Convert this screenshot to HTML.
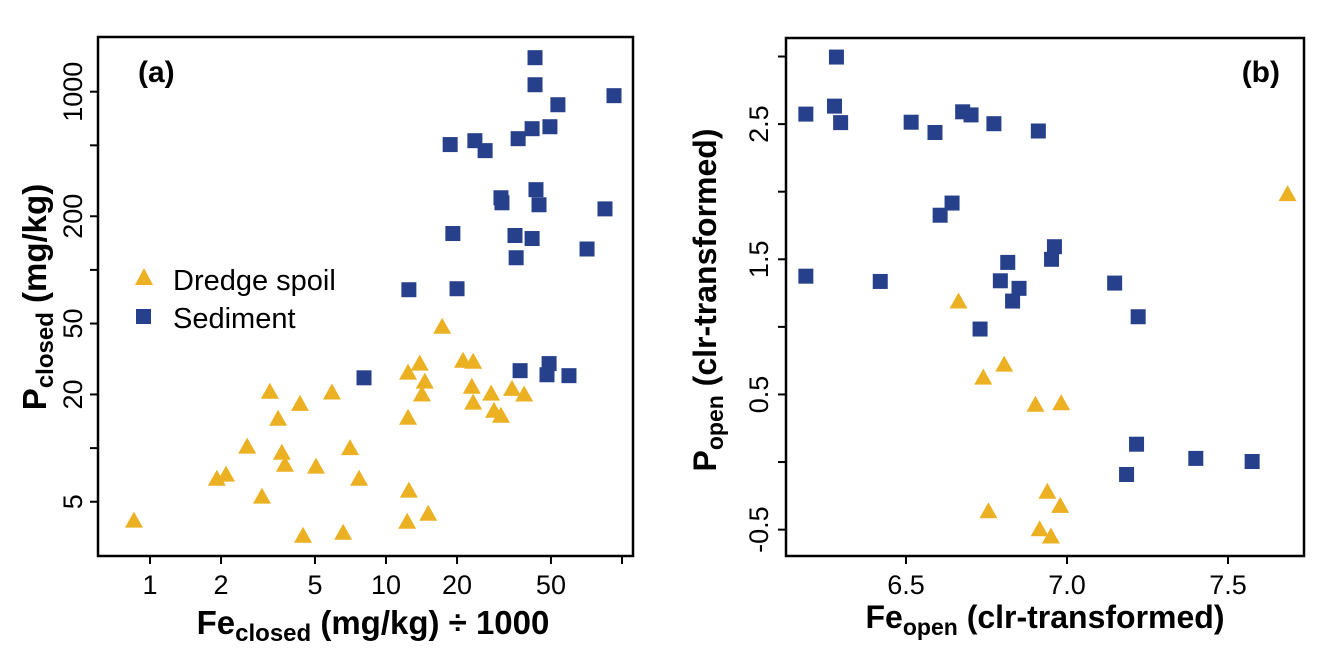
<!DOCTYPE html>
<html><head><meta charset="utf-8"><style>
body{margin:0;background:#fff}
svg{display:block;font-family:"Liberation Sans",Arial,sans-serif}
</style></head><body>
<svg id="chart" width="1344" height="672" viewBox="0 0 1344 672" style="position:absolute;left:0;top:0">
<g id="pa"></g>
<g id="pb"></g>
<text x="138" y="82" font-size="30" font-weight="bold">(a)</text>
<text x="1280" y="82" font-size="30" font-weight="bold" text-anchor="end">(b)</text>
<g>
<polygon points="135,285 153,285 144,268" fill="#ebb123"/>
<text x="173" y="290" font-size="29">Dredge spoil</text>
<rect x="136" y="309" width="15" height="15" fill="#27408b"/>
<text x="173" y="328" font-size="29">Sediment</text>
</g>
<text x="373" y="634" font-size="33" font-weight="bold" text-anchor="middle">Fe<tspan font-size="24" dy="7">closed</tspan><tspan dy="-7"> (mg/kg) ÷ 1000</tspan></text>
<text transform="translate(46 297) rotate(-90)" font-size="33" font-weight="bold" text-anchor="middle">P<tspan font-size="24" dy="7">closed</tspan><tspan dy="-7"> (mg/kg)</tspan></text>
<text x="1045" y="628" font-size="32" font-weight="bold" text-anchor="middle">Fe<tspan font-size="23" dy="7">open</tspan><tspan dy="-7"> (clr-transformed)</tspan></text>
<text transform="translate(716 300) rotate(-90)" font-size="32" font-weight="bold" text-anchor="middle">P<tspan font-size="23" dy="7">open</tspan><tspan dy="-7"> (clr-transformed)</tspan></text>
</svg>
<script>
// Panel (a) data: log-log, Fe(mg/kg)/1000 vs P(mg/kg)
const aSedX=[42.8,42.8,53.5,23.8,18.7,26.3,36.3,41.6,49.5,30.7,31.0,43.2,44.5,84.7,19.2,35.2,41.6,71.1,35.6,12.5,20.0,8.07,49.1,37.0,48.1,59.6,92.5];
const aSedY=[1552,1094,845,531,505,467,545,620,636,254,238,282,232,220,160,156,150,131,117,77.4,78.4,24.8,29.8,27.2,25.8,25.5,950];
const aDrX=[0.855,1.92,2.10,2.98,4.45,6.58,12.3,12.5,15.1,2.58,3.62,3.73,5.05,7.04,7.69,3.22,3.49,4.32,5.90,17.3,12.4,13.9,14.6,14.2,12.4,21.2,23.4,23.1,23.4,27.9,28.7,30.7,34.2,38.5];
const aDrY=[3.92,6.73,7.10,5.34,3.22,3.35,3.86,5.77,4.28,10.2,9.42,8.07,7.87,10.0,6.73,20.7,14.6,17.7,20.5,48.0,26.5,29.8,23.6,20.0,14.8,30.9,30.5,22.1,18.0,20.2,16.2,15.2,21.5,20.0];
const aXTicks=[1,2,5,10,20,50,100];
const aXLabels=["1","2","5","10","20","50",""];
const aYTicks=[5,10,20,50,100,200,500,1000];
const aYLabels=["5","","20","50","","200","","1000"];
// Panel (b) data: clr-transformed
const bSedX=[6.189,6.284,6.278,6.297,6.516,6.590,6.676,6.702,6.773,6.911,6.606,6.643,6.189,6.420,6.961,6.952,6.816,6.793,6.851,6.831,6.730,7.148,7.221,7.216,7.185,7.400,7.575];
const bSedY=[2.574,2.996,2.633,2.511,2.514,2.438,2.591,2.568,2.503,2.449,1.826,1.916,1.375,1.336,1.593,1.500,1.477,1.341,1.285,1.191,0.984,1.324,1.075,0.132,-0.092,0.027,0.004];
const bDrX=[7.685,6.663,6.805,6.740,6.902,6.982,6.939,6.979,6.756,6.915,6.950];
const bDrY=[1.982,1.188,0.721,0.625,0.424,0.435,-0.220,-0.324,-0.364,-0.497,-0.551];
const bXTicks=[6.5,7.0,7.5];
const bXLabels=["6.5","7.0","7.5"];
const bYTicks=[-0.5,0,0.5,1,1.5,2,2.5,3];
const bYLabels=["-0.5","","0.5","","1.5","","2.5",""];

const NS="http://www.w3.org/2000/svg";
const BLUE="#27408b", GOLD="#ebb123";
function mk(parent,tag,attrs,text){const e=document.createElementNS(NS,tag);for(const k in attrs)e.setAttribute(k,attrs[k]);if(text!==undefined)e.textContent=text;parent.appendChild(e);return e;}

const aL=98,aR=633,aT=37,aB=556;
const ax=v=>150+236*Math.log10(v);
const ay=v=>91.7-178.2*(Math.log10(v)-3);
const bL=786,bR=1304,bT=38,bB=556;
const bx=v=>906+(v-6.5)*322;
const by=v=>bT+(3.137-v)/(3.137+0.695)*(bB-bT);

function square(g,x,y,name){const e=mk(g,'rect',{x:x-7.5,y:y-7.5,width:15,height:15,fill:BLUE});

}
function tri(g,x,y,name){const e=mk(g,'polygon',{points:`${x-9},${y+7} ${x+9},${y+7} ${x},${y-9}`,fill:GOLD});

}

function panel(g,L,R,T,B,fx,fy,xt,xl,yt,yl,ylabX){
  const fr=mk(g,'rect',{x:L,y:T,width:R-L,height:B-T,fill:'none',stroke:'#000','stroke-width':2.5});
  
  
  xt.forEach((t,i)=>{const x=fx(t);
    const l=mk(g,'line',{x1:x,x2:x,y1:B,y2:B+8,stroke:'#000','stroke-width':2});
    
    
    if(xl[i]){const tx=mk(g,'text',{x:x,y:B+38,'font-size':27,'text-anchor':'middle'},xl[i]);
      
      }
  });
  yt.forEach((t,i)=>{const y=fy(t);
    const l=mk(g,'line',{x1:L-8,x2:L,y1:y,y2:y,stroke:'#000','stroke-width':2});
    
    
    if(yl[i]){const tx=mk(g,'text',{x:ylabX,y:y,'font-size':27,'text-anchor':'middle',transform:`rotate(-90 ${ylabX} ${y})`},yl[i]);
      
      }
  });
}
const pa=document.getElementById('pa'), pb=document.getElementById('pb');
panel(pa,aL,aR,aT,aB,ax,ay,aXTicks,aXLabels,aYTicks,aYLabels,82);
panel(pb,bL,bR,bT,bB,bx,by,bXTicks,bXLabels,bYTicks,bYLabels,768);
aDrX.forEach((v,i)=>tri(pa,ax(v),ay(aDrY[i]),'dredge-point'));
aSedX.forEach((v,i)=>square(pa,ax(v),ay(aSedY[i]),'sediment-point'));
bDrX.forEach((v,i)=>tri(pb,bx(v),by(bDrY[i]),'dredge-point'));
bSedX.forEach((v,i)=>square(pb,bx(v),by(bSedY[i]),'sediment-point'));
</script>
</body></html>
